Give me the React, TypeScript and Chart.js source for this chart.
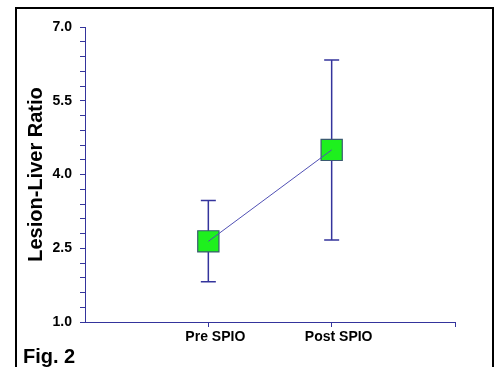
import { useEffect, useRef } from "react";
import { Chart, registerables } from "chart.js";

Chart.register(...registerables);

const categories = ["Pre SPIO", "Post SPIO"];
const categoryPositions = [1, 2];
const means = [2.64, 4.5];
const upperErr = [3.47, 6.33];
const lowerErr = [1.82, 2.67];
const yMajorTicks = [1.0, 2.5, 4.0, 5.5, 7.0];
const yMinorStep = 0.3;
const yMin = 1.0;
const yMax = 7.0;
const xMin = 0;
const xMax = 3;
const yTitle = "Lesion-Liver Ratio";
const figLabel = "Fig. 2";

const AXIS = "#34349c";
const FONT = "'Liberation Sans', Arial, sans-serif";

export default function App() {
  const ref = useRef<HTMLCanvasElement | null>(null);

  useEffect(() => {
    if (!ref.current) return;

    const pointData = categoryPositions.map((x, i) => ({ x, y: means[i] }));

    const extras = {
      id: "extras",
      beforeDatasetsDraw(chart: any) {
        const { ctx, scales } = chart;
        const xs = scales.x;
        const ys = scales.y;
        ctx.save();
        ctx.strokeStyle = AXIS;
        ctx.lineWidth = 1.5;
        categoryPositions.forEach((cx, i) => {
          const px = xs.getPixelForValue(cx);
          const top = ys.getPixelForValue(upperErr[i]);
          const bot = ys.getPixelForValue(lowerErr[i]);
          ctx.beginPath();
          ctx.moveTo(px, top);
          ctx.lineTo(px, bot);
          ctx.moveTo(px - 7.5, top);
          ctx.lineTo(px + 7.5, top);
          ctx.moveTo(px - 7.5, bot);
          ctx.lineTo(px + 7.5, bot);
          ctx.stroke();
        });
        ctx.restore();
      },
      afterDraw(chart: any) {
        const { ctx, chartArea } = chart;
        ctx.save();
        ctx.fillStyle = "#000";
        ctx.font = `bold 20px ${FONT}`;
        ctx.translate(chartArea.left - 49, (chartArea.top + chartArea.bottom) / 2);
        ctx.rotate(-Math.PI / 2);
        ctx.textAlign = "center";
        ctx.textBaseline = "middle";
        ctx.fillText(yTitle, 0, 0);
        ctx.restore();

        ctx.save();
        ctx.fillStyle = "#000";
        ctx.font = `bold 20px ${FONT}`;
        ctx.textAlign = "left";
        ctx.textBaseline = "alphabetic";
        ctx.fillText(figLabel, 23, 363);
        ctx.restore();
      },
    };

    const chart = new Chart(ref.current, {
      type: "scatter",
      data: {
        datasets: [
          {
            type: "line",
            data: pointData,
            borderColor: "#5050b4",
            borderWidth: 1,
            pointRadius: 0,
            fill: false,
            order: 0,
          } as any,
          {
            type: "scatter",
            data: pointData,
            pointStyle: "rect",
            pointRadius: 15,
            pointHoverRadius: 15,
            backgroundColor: "#1ef01e",
            borderColor: "#3a5a70",
            borderWidth: 1.2,
            order: 1,
          },
        ],
      },
      options: {
        animation: false,
        responsive: true,
        maintainAspectRatio: false,
        layout: { padding: { left: 0, right: 40, top: 27, bottom: 0 } },
        plugins: {
          legend: { display: false },
          tooltip: { enabled: false },
        },
        scales: {
          x: {
            type: "linear",
            min: xMin,
            max: xMax,
            afterFit(scale: any) {
              scale.height = 45;
            },
            afterBuildTicks(scale: any) {
              scale.ticks = [...categoryPositions, xMax].map((v) => ({ value: v }));
            },
            grid: {
              drawOnChartArea: false,
              drawTicks: true,
              tickLength: 5,
              color: AXIS,
            },
            border: { color: AXIS, width: 1 },
            ticks: {
              autoSkip: false,
              maxRotation: 0,
              padding: 2,
              labelOffset: 7,
              color: "#000",
              font: { family: FONT, size: 14, weight: "bold" },
              callback(value: any) {
                const idx = categoryPositions.indexOf(Number(value));
                return idx >= 0 ? categories[idx] : "";
              },
            },
          },
          y: {
            type: "linear",
            min: yMin,
            max: yMax,
            afterFit(scale: any) {
              scale.width = 85;
            },
            afterBuildTicks(scale: any) {
              const t: any[] = [];
              const n = Math.round((yMax - yMin) / yMinorStep);
              for (let i = 0; i <= n; i++) {
                t.push({ value: Math.round((yMin + i * yMinorStep) * 10) / 10 });
              }
              scale.ticks = t;
            },
            grid: {
              drawOnChartArea: false,
              drawTicks: true,
              tickLength: 5,
              color: AXIS,
            },
            border: { color: AXIS, width: 1 },
            ticks: {
              autoSkip: false,
              padding: 8,
              color: "#000",
              font: { family: FONT, size: 14, weight: "bold" },
              callback(value: any) {
                const v = Number(value);
                return yMajorTicks.some((m) => Math.abs(m - v) < 1e-6) ? v.toFixed(1) : "";
              },
            },
          },
        },
      },
      plugins: [extras],
    });

    return () => chart.destroy();
  }, []);

  return (
    <div style={{ position: "fixed", left: 0, top: 0, width: 495, height: 367, background: "#fff", overflow: "hidden" }}>
      <canvas ref={ref} style={{ position: "absolute", left: 0, top: 0 }} />
      <div
        style={{
          position: "absolute",
          left: 15,
          top: 7,
          width: 475,
          height: 380,
          borderLeft: "2px solid #000",
          borderTop: "2px solid #000",
          borderRight: "2px solid #000",
          pointerEvents: "none",
        }}
      />
    </div>
  );
}
